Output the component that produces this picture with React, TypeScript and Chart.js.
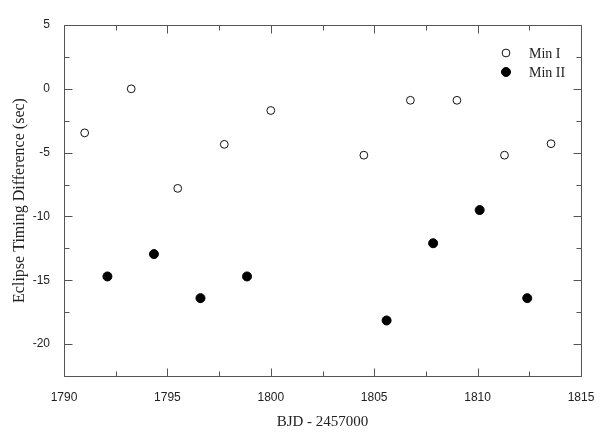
import { useEffect, useRef } from "react";
import { Chart, registerables } from "chart.js";

Chart.register(...registerables);

// Min I (primary minima) — BJD - 2457000 and timing difference (sec)
const minIDays = [1791.0, 1793.25, 1795.5, 1797.75, 1800.0, 1804.5, 1806.75, 1809.0, 1811.3, 1813.55];
const minIDiff = [-3.45, 0.0, -7.8, -4.35, -1.7, -5.2, -0.9, -0.9, -5.2, -4.3];

// Min II (secondary minima)
const minIIDays = [1792.1, 1794.35, 1796.6, 1798.85, 1805.6, 1807.85, 1810.1, 1812.4];
const minIIDiff = [-14.7, -12.95, -16.4, -14.7, -18.15, -12.1, -9.5, -16.4];

const seriesLabels = ["Min I", "Min II"];
const xAxisTitle = "BJD - 2457000";
const yAxisTitle = "Eclipse Timing Difference (sec)";

const X_MIN = 1790;
const X_MAX = 1815;
const Y_MIN = -22.5;
const Y_MAX = 5;
const MAJOR_STEP = 5;
const MINOR_STEP = 2.5;

const AXIS_COLOR = "#555555";
const TEXT_COLOR = "#222222";
const SERIF = "'Liberation Serif', 'DejaVu Serif', serif";
const SANS = "'Liberation Sans', Arial, sans-serif";

const frameAndLegend = {
  id: "frameAndLegend",
  afterDraw(chart: any) {
    const { ctx, chartArea: a, scales } = chart;
    const xs = scales.x;
    const ys = scales.y;
    const L = Math.round(a.left) + 0.5;
    const R = Math.round(a.right) + 0.5;
    const T = Math.round(a.top) + 0.5;
    const B = Math.round(a.bottom) + 0.5;
    ctx.save();
    ctx.strokeStyle = AXIS_COLOR;
    ctx.lineWidth = 1;
    ctx.beginPath();
    ctx.rect(L, T, R - L, B - T);
    ctx.stroke();

    ctx.beginPath();
    for (let v = X_MIN; v <= X_MAX + 1e-9; v += MINOR_STEP) {
      const px = Math.round(xs.getPixelForValue(v)) + 0.5;
      const len = Math.abs(v % MAJOR_STEP) < 1e-6 ? 8 : 5;
      ctx.moveTo(px, B);
      ctx.lineTo(px, B - len);
      ctx.moveTo(px, T);
      ctx.lineTo(px, T + len);
    }
    for (let v = Y_MIN; v <= Y_MAX + 1e-9; v += MINOR_STEP) {
      const py = Math.round(ys.getPixelForValue(v)) + 0.5;
      const len = Math.abs(v % MAJOR_STEP) < 1e-6 ? 8 : 5;
      ctx.moveTo(L, py);
      ctx.lineTo(L + len, py);
      ctx.moveTo(R, py);
      ctx.lineTo(R - len, py);
    }
    ctx.stroke();

    // legend inside the plot, top right
    const lx = a.right - 75;
    const tx = a.right - 52;
    let ly = a.top + 28;
    chart.data.datasets.forEach((ds: any) => {
      ctx.beginPath();
      ctx.arc(lx, ly, ds.pointRadius, 0, Math.PI * 2);
      ctx.fillStyle = ds.pointBackgroundColor;
      ctx.fill();
      ctx.lineWidth = ds.pointBorderWidth;
      ctx.strokeStyle = ds.pointBorderColor;
      ctx.stroke();
      ctx.fillStyle = TEXT_COLOR;
      ctx.font = `14px ${SERIF}`;
      ctx.textAlign = "left";
      ctx.textBaseline = "middle";
      ctx.fillText(ds.label, tx, ly + 1);
      ly += 19;
    });
    ctx.restore();
  },
};

export default function App() {
  const ref = useRef<HTMLCanvasElement | null>(null);

  useEffect(() => {
    if (!ref.current) return;
    const chart = new Chart(ref.current, {
      type: "scatter",
      data: {
        datasets: [
          {
            label: seriesLabels[0],
            data: minIDays.map((d, i) => ({ x: d, y: minIDiff[i] })),
            pointRadius: 3.9,
            pointBackgroundColor: "#ffffff",
            pointBorderColor: "#111111",
            pointBorderWidth: 1,
            pointHoverRadius: 3.9,
          },
          {
            label: seriesLabels[1],
            data: minIIDays.map((d, i) => ({ x: d, y: minIIDiff[i] })),
            pointRadius: 4.5,
            pointBackgroundColor: "#000000",
            pointBorderColor: "#000000",
            pointBorderWidth: 1,
            pointHoverRadius: 4.5,
          },
        ],
      },
      options: {
        responsive: false,
        animation: false,
        events: [],
        layout: { padding: { top: 25, right: 31, left: 0, bottom: 0 } },
        plugins: {
          legend: { display: false },
          tooltip: { enabled: false },
        },
        scales: {
          x: {
            type: "linear",
            min: X_MIN,
            max: X_MAX,
            grid: { display: false },
            border: { display: false },
            ticks: {
              stepSize: MAJOR_STEP,
              color: TEXT_COLOR,
              font: { family: SANS, size: 12 },
              padding: 6,
              maxRotation: 0,
              callback: (v: any) => String(v),
            },
            title: {
              display: true,
              text: xAxisTitle,
              color: TEXT_COLOR,
              font: { family: SERIF, size: 15 },
              padding: { top: 0, bottom: 5 },
            },
            afterFit: (s: any) => {
              s.height = 60;
            },
          },
          y: {
            type: "linear",
            min: Y_MIN,
            max: Y_MAX,
            grid: { display: false },
            border: { display: false },
            ticks: {
              stepSize: MAJOR_STEP,
              includeBounds: false,
              color: TEXT_COLOR,
              font: { family: SANS, size: 12 },
              padding: 6,
              callback: (v: any) => String(v),
            },
            title: {
              display: true,
              text: yAxisTitle,
              color: TEXT_COLOR,
              font: { family: SERIF, size: 16 },
              padding: { top: 10, bottom: 0 },
            },
            afterFit: (s: any) => {
              s.width = 64;
            },
          },
        },
      },
      plugins: [frameAndLegend],
    } as any);
    return () => chart.destroy();
  }, []);

  return (
    <div style={{ position: "fixed", left: 0, top: 0, width: 612, height: 436, background: "#ffffff" }}>
      <canvas ref={ref} width={612} height={436} style={{ width: 612, height: 436, display: "block" }} />
    </div>
  );
}
